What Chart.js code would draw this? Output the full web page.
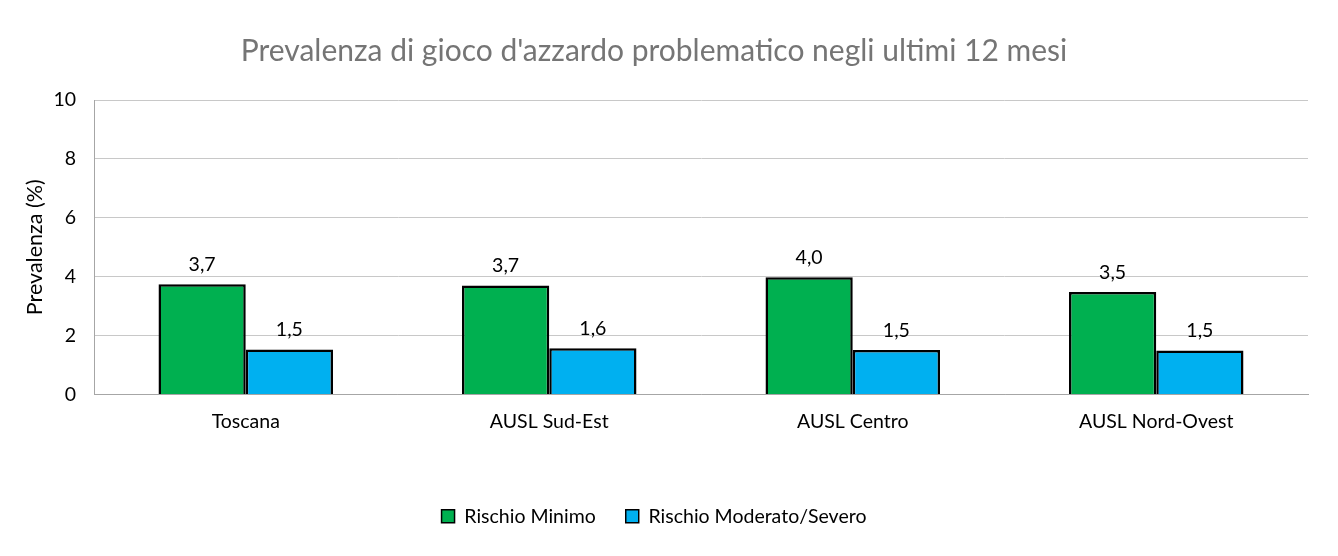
<!DOCTYPE html>
<html>
<head>
<meta charset="utf-8">
<script src="https://cdn.jsdelivr.net/npm/chart.js@4"></script>
<style>
  html, body { margin: 0; padding: 0; background: #fff; }
  #wrap { width: 1338px; height: 556px; }
</style>
</head>
<body>
<div id="wrap"><canvas id="chart"></canvas></div>
<script>
// Prevalenza gioco d'azzardo - bar chart

const categories = ["Toscana", "AUSL Sud-Est", "AUSL Centro", "AUSL Nord-Ovest"];
const rischioMinimo = [3.74, 3.70, 3.98, 3.48];
const rischioModerato = [1.53, 1.57, 1.51, 1.49];
const yTicks = [0, 2, 4, 6, 8, 10];

const FONT = "Lato, 'Open Sans', sans-serif";
const SIZE = 19.5;

// Draw value labels above bars (comma decimal)
const valueLabels = {
  id: "valueLabels",
  afterDatasetsDraw(chart) {
    const ctx = chart.ctx;
    ctx.save();
    ctx.font = SIZE + "px " + FONT;
    ctx.fillStyle = "#000";
    ctx.textAlign = "center";
    ctx.textBaseline = "bottom";
    chart.data.datasets.forEach((ds, i) => {
      const meta = chart.getDatasetMeta(i);
      meta.data.forEach((bar, j) => {
        const txt = ds.data[j].toFixed(1).replace(".", ",");
        ctx.fillText(txt, bar.x, bar.y - 10);
      });
    });
    ctx.restore();
  }
};

new Chart(document.getElementById("chart"), {
  type: "bar",
  data: {
    labels: categories,
    datasets: [
      {
        label: "Rischio Minimo",
        data: rischioMinimo,
        backgroundColor: "#00b050",
        borderColor: "#000",
        borderWidth: 2.5,
      },
      {
        label: "Rischio Moderato/Severo",
        data: rischioModerato,
        backgroundColor: "#00b0f0",
        borderColor: "#000",
        borderWidth: 2.5,
      }
    ]
  },
  options: {
    responsive: true,
    maintainAspectRatio: false,
    animation: false,
    layout: { padding: { left: 0, right: 30, top: 33, bottom: 20 } },
    datasets: {
      bar: { categoryPercentage: 0.575, barPercentage: 1.0 }
    },
    scales: {
      x: {
        grid: { display: false, drawTicks: false },
        border: { color: "#a6a6a6", width: 1 },
        ticks: { color: "#000", font: { family: FONT, size: SIZE }, padding: 16 },
        afterFit(scale) { scale.height = 82; }
      },
      y: {
        min: 0,
        max: 10,
        afterBuildTicks(scale) { scale.ticks = yTicks.map(v => ({ value: v })); },
        grid: { color: "#c8c8c8", drawTicks: false },
        border: { color: "#a6a6a6", width: 1 },
        ticks: { color: "#000", font: { family: FONT, size: SIZE }, padding: 18 },
        title: {
          display: true,
          text: "Prevalenza (%)",
          color: "#000",
          font: { family: FONT, size: 21.5 },
          padding: { top: 22, bottom: 0 }
        },
        afterFit(scale) { scale.width = 94; }
      }
    },
    plugins: {
      title: {
        display: true,
        text: "Prevalenza di gioco d'azzardo problematico negli ultimi 12 mesi",
        color: "#757575",
        font: { family: FONT, size: 30, weight: "normal" },
        padding: { top: 0, bottom: 31 }
      },
      legend: {
        position: "bottom",
        labels: {
          color: "#000",
          font: { family: FONT, size: SIZE },
          boxWidth: 13,
          boxHeight: 13,
          padding: 30,
          generateLabels(chart) {
            return chart.data.datasets.map((ds, i) => ({
              text: ds.label,
              fillStyle: ds.backgroundColor,
              strokeStyle: "#000",
              lineWidth: 1.5,
              datasetIndex: i,
              fontColor: "#000"
            }));
          }
        }
      },
      tooltip: { enabled: false }
    }
  },
  plugins: [valueLabels]
});
</script>
</body>
</html>
